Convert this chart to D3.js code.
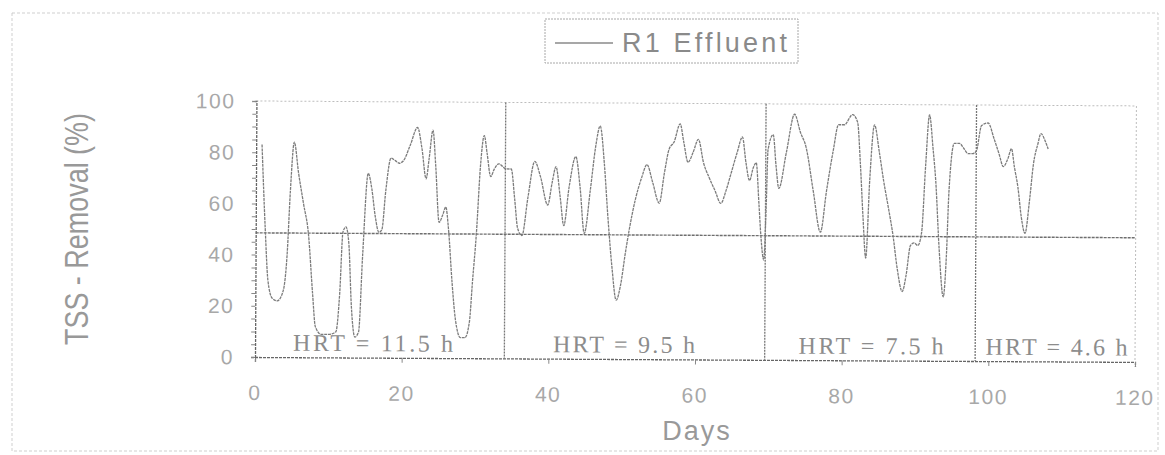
<!DOCTYPE html>
<html>
<head>
<meta charset="utf-8">
<script src="https://cdn.jsdelivr.net/npm/d3@7"></script>
<style>
  body { margin: 0; background: #fff; }
  svg { display: block; }
</style>
</head>
<body>
<svg id="chart" width="1165" height="455"></svg>
<script>
// Daily TSS removal of reactor R1 effluent (%)
const days = [
  0.8, 1.3, 1.7, 2.3, 3.0, 3.8, 4.3, 4.7, 5.2, 5.8, 6.5, 7.2, 7.8, 8.2, 9.0, 10.0,
  11.0, 11.5, 11.9, 12.3, 12.7, 13.1, 13.6, 14.1, 14.6, 15.3, 15.8, 16.3, 16.8, 17.2,
  17.7, 18.4, 19.0, 19.5, 20.1, 21.0, 22.0, 22.6, 23.2, 23.6, 24.1, 24.5, 25.0, 25.5,
  25.9, 26.3, 26.8, 27.3, 28.0, 28.6, 29.2, 29.6, 30.1, 30.6, 31.1, 31.5, 32.0, 32.5,
  33.1, 33.6, 34.1, 34.8, 35.3, 35.7, 36.3, 37.1, 38.0, 38.8, 39.8, 40.4, 40.9, 41.5,
  42.0, 42.7, 43.6, 44.2, 44.8, 45.6, 46.3, 46.9, 47.5, 48.0, 48.6, 49.2, 49.8, 50.4,
  50.9, 51.8, 52.6, 53.3, 54.1, 55.0, 55.7, 56.3, 57.0, 57.8, 58.3, 58.9, 59.6, 60.3,
  61.0, 61.8, 62.6, 63.4, 64.1, 64.8, 65.6, 66.3, 66.8, 67.3, 67.8, 68.2, 68.6, 68.9,
  69.3, 69.6, 69.8, 70.5, 70.9, 71.3, 72.3, 73.4, 74.2, 75.0, 76.0, 77.0, 77.8, 78.7,
  79.4, 80.2, 81.3, 82.0, 82.4, 82.8, 83.2, 83.7, 84.3, 85.0, 85.6, 86.3, 86.9, 87.5,
  88.2, 88.7, 89.3, 89.8, 90.3, 90.8, 91.3, 91.8, 92.3, 92.7, 93.2, 93.8, 94.2, 94.5,
  95.2, 95.9, 96.5, 97.1, 97.7, 98.2, 98.9, 99.8, 100.6, 101.3, 101.9, 102.5, 103.0,
  103.4, 103.9, 104.4, 104.9, 105.5, 106.0, 106.6, 107.0, 107.6, 108.0
];
const removal = [
  83, 50, 30, 23, 22, 26, 40, 65, 84, 72, 60, 48, 25, 12, 9, 9,
  10, 25, 49, 51, 45, 20, 8, 10, 40, 72, 66, 55, 49, 50,
  65, 78, 77, 76, 77, 83, 90, 82, 70, 78, 89, 75, 53, 56,
  59, 50, 30, 15, 8, 8, 14, 30, 49, 75, 87, 80, 71, 74,
  76, 75, 74, 74, 62, 51, 48, 63, 77, 71, 60, 69, 75, 63,
  52, 67, 79, 67, 49, 66, 83, 91, 76, 56, 36, 23, 29, 41,
  50, 63, 71, 76, 69, 61, 73, 82, 85, 92, 85, 77, 81, 86,
  77, 71, 66, 61, 66, 73, 81, 87, 77, 70, 75, 77, 61, 48,
  39, 61, 82, 88, 76, 67, 81, 96, 89, 83, 66, 50, 66, 82,
  92, 92, 96, 93, 77, 56, 40, 71, 92, 81, 70, 59, 49, 36,
  27, 33, 45, 46, 45, 50, 76, 96, 83, 70, 44, 25, 41, 66,
  85, 85, 83, 81, 81, 82, 92, 93, 87, 81, 76, 79, 83,
  76, 68, 56, 50, 63, 77, 85, 89, 86, 83
];

const xTicks = [0, 20, 40, 60, 80, 100, 120];
const yTicks = [0, 20, 40, 60, 80, 100];
const yMinorTicks = d3.range(0, 101, 5);

// Hydraulic retention time periods
const hrtBreaks = [34, 69.5, 98.2];
const hrtLabels = ["HRT = 11.5 h", "HRT = 9.5 h", "HRT = 7.5 h", "HRT = 4.6 h"];
const hrtLabelDays = [16.1, 50.3, 84.0, 109.3];
const hrtLabelWidths = [160, 142, 145, 142];

const threshold = 48.5;
const legendLabel = "R1 Effluent";
const xTitle = "Days";
const yTitle = "TSS - Removal (%)";

const svg = d3.select("#chart");

const x = d3.scaleLinear().domain([0, 120]).range([255, 1135]);
const y = d3.scaleLinear().domain([0, 100]).range([357, 101]);

// outer frame
svg.append("rect")
  .attr("x", 12).attr("y", 13).attr("width", 1146).attr("height", 438)
  .attr("fill", "none").attr("stroke", "#cfcfcf").attr("stroke-width", 1)
  .attr("stroke-dasharray", "3,2");

// plot body, slightly tilted like the printed page
const g = svg.append("g").attr("transform", `rotate(0.32, ${x(0)}, ${y(0)})`);

// top and right frame of the plot area
g.append("path")
  .attr("d", `M${x(0)},${y(100)}H${x(120)}V${y(0)}`)
  .attr("fill", "none").attr("stroke", "#bdbdbd").attr("stroke-width", 1)
  .attr("stroke-dasharray", "2,2");

// 50 % reference line
g.append("line")
  .attr("x1", x(0)).attr("x2", x(120))
  .attr("y1", y(threshold)).attr("y2", y(threshold))
  .attr("stroke", "#6e6e6e").attr("stroke-width", 1.4)
  .attr("stroke-dasharray", "3,1");

// HRT period separators
g.selectAll("line.sep").data(hrtBreaks).join("line")
  .attr("class", "sep")
  .attr("x1", d => x(d)).attr("x2", d => x(d))
  .attr("y1", y(100)).attr("y2", y(0))
  .attr("stroke", "#777").attr("stroke-width", 1.3)
  .attr("stroke-dasharray", "2,1");

// x axis
const xAxis = d3.axisBottom(x).tickValues(xTicks).tickSize(5).tickFormat("");
const gx = g.append("g").attr("transform", `translate(0,${y(0)})`).call(xAxis);
gx.select(".domain").attr("stroke", "#666").attr("stroke-width", 1.3).attr("stroke-dasharray", "3,1");
gx.selectAll(".tick line").attr("stroke", "#888");

// y axis with minor ticks
const yAxis = d3.axisLeft(y).tickValues(yMinorTicks).tickSize(4).tickFormat("");
const gy = g.append("g").attr("transform", `translate(${x(0)},0)`).call(yAxis);
gy.select(".domain").attr("stroke", "#666").attr("stroke-width", 1.3).attr("stroke-dasharray", "3,1");
gy.selectAll(".tick line").attr("stroke", "#888");

// tick labels
g.selectAll("text.xl").data(xTicks).join("text")
  .attr("class", "xl")
  .attr("x", d => x(d)).attr("y", 400)
  .attr("text-anchor", "middle")
  .attr("font-family", "Liberation Sans, Arial, sans-serif")
  .attr("font-size", 21).attr("letter-spacing", 1.5)
  .attr("fill", "#a8a8a8")
  .text(d => d);

g.selectAll("text.yl").data(yTicks).join("text")
  .attr("class", "yl")
  .attr("x", 234).attr("y", d => y(d) + 7.5)
  .attr("text-anchor", "end")
  .attr("font-family", "Liberation Sans, Arial, sans-serif")
  .attr("font-size", 21).attr("letter-spacing", 1.5)
  .attr("fill", "#a8a8a8")
  .text(d => d);

// removal curve
const line = d3.line()
  .x((d, i) => x(days[i]))
  .y(d => y(d))
  .curve(d3.curveMonotoneX);

g.append("path")
  .datum(removal)
  .attr("d", line)
  .attr("fill", "none")
  .attr("stroke", "#7c7c7c")
  .attr("stroke-width", 1.3)
  .attr("stroke-dasharray", "3,0.8");

// HRT labels
g.selectAll("text.hrt").data(hrtLabels).join("text")
  .attr("class", "hrt")
  .attr("x", (d, i) => x(hrtLabelDays[i]))
  .attr("y", y(2.5))
  .attr("text-anchor", "middle")
  .attr("font-family", "Liberation Serif, Times New Roman, serif")
  .attr("font-size", 24)
  .attr("textLength", (d, i) => hrtLabelWidths[i])
  .attr("lengthAdjust", "spacing")
  .attr("fill", "#8c8c8c")
  .text(d => d);

// axis titles
svg.append("text")
  .attr("x", 697).attr("y", 440)
  .attr("text-anchor", "middle")
  .attr("font-family", "Liberation Sans, Arial, sans-serif")
  .attr("font-size", 27).attr("letter-spacing", 2)
  .attr("fill", "#999")
  .text(xTitle);

svg.append("text")
  .attr("transform", "translate(88,229) rotate(-90)")
  .attr("text-anchor", "middle")
  .attr("font-family", "Liberation Sans, Arial, sans-serif")
  .attr("font-size", 33)
  .attr("textLength", 232)
  .attr("lengthAdjust", "spacingAndGlyphs")
  .attr("fill", "#999")
  .text(yTitle);

// legend
const lg = svg.append("g");
lg.append("rect")
  .attr("x", 545).attr("y", 19).attr("width", 253).attr("height", 44)
  .attr("fill", "#fff").attr("stroke", "#a8a8a8").attr("stroke-width", 1)
  .attr("stroke-dasharray", "2,1");
lg.append("line")
  .attr("x1", 555).attr("x2", 613).attr("y1", 43).attr("y2", 43)
  .attr("stroke", "#8a8a8a").attr("stroke-width", 1.3);
lg.append("text")
  .attr("x", 622).attr("y", 52)
  .attr("font-family", "Liberation Sans, Arial, sans-serif")
  .attr("font-size", 27)
  .attr("textLength", 165)
  .attr("lengthAdjust", "spacing")
  .attr("fill", "#8a8a8a")
  .text(legendLabel);
</script>
</body>
</html>
